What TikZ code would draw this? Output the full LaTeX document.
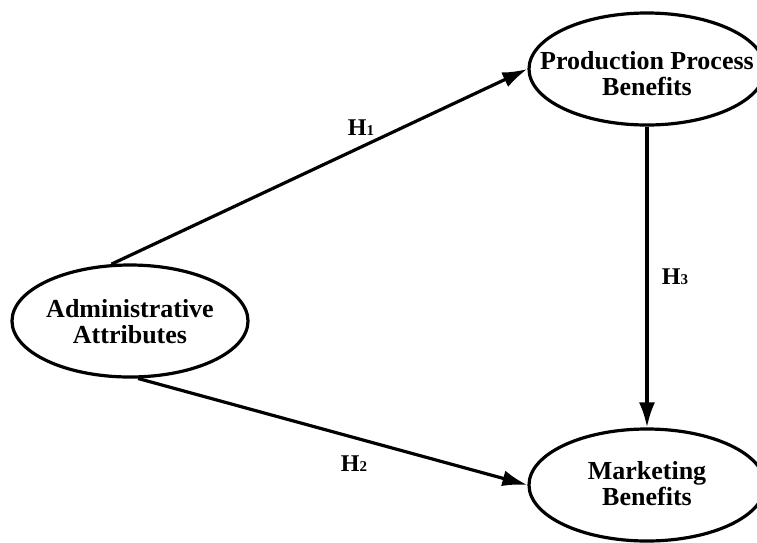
\documentclass[tikz,border=0pt]{standalone}
\usepackage{fontspec}
\setmainfont{Liberation Serif}
\usetikzlibrary{shapes.geometric}
\usetikzlibrary{arrows.meta}
\usetikzlibrary{positioning}

\tikzset{
    construct/.style={draw, ellipse, line width=3.2pt, minimum width=236pt, minimum height=112pt,
        inner sep=0pt},
    name text/.style={align=center, inner sep=0pt, font=\fontsize{26}{26}\selectfont\bfseries},
    path/.style={line width=3.2pt, -{Latex[length=25pt, width=16pt]}},
    hyp/.style={font=\fontsize{24}{24}\selectfont\bfseries, inner sep=0pt}
}
\newcommand{\hsub}[1]{H{\fontsize{15}{15}\selectfont #1}}

\begin{document}
\begin{tikzpicture}[x=1pt, y=-1pt]
        \useasboundingbox (0,0) rectangle (757,542);
        \clip (0,0) rectangle (757,542);

        % Constructs
        \node[construct] (admin) at (130,321) {};
        \node[construct] (prod) at (647,69) {};
        \node[construct] (mkt) at (647,485) {};
        \node[name text] (admin text) at (130,322) {Administrative\\Attributes};
        \node[name text] (prod text) at (647,74) {Production Process\\Benefits};
        \node[name text] (mkt text) at (647,484) {Marketing\\Benefits};

        % Hypotheses
        \draw[path] (admin.108) -- (prod.west);
        \draw[path] (admin.-82) -- (mkt.west);
        \draw[path] (prod.south) -- (mkt.north);

        \node[hyp] (h1) at (361,128) {\hsub{1}};
        \node[hyp] (h2) at (354,464) {\hsub{2}};
        \node[hyp] (h3) at (675,277) {\hsub{3}};

    \end{tikzpicture}
\end{document}
